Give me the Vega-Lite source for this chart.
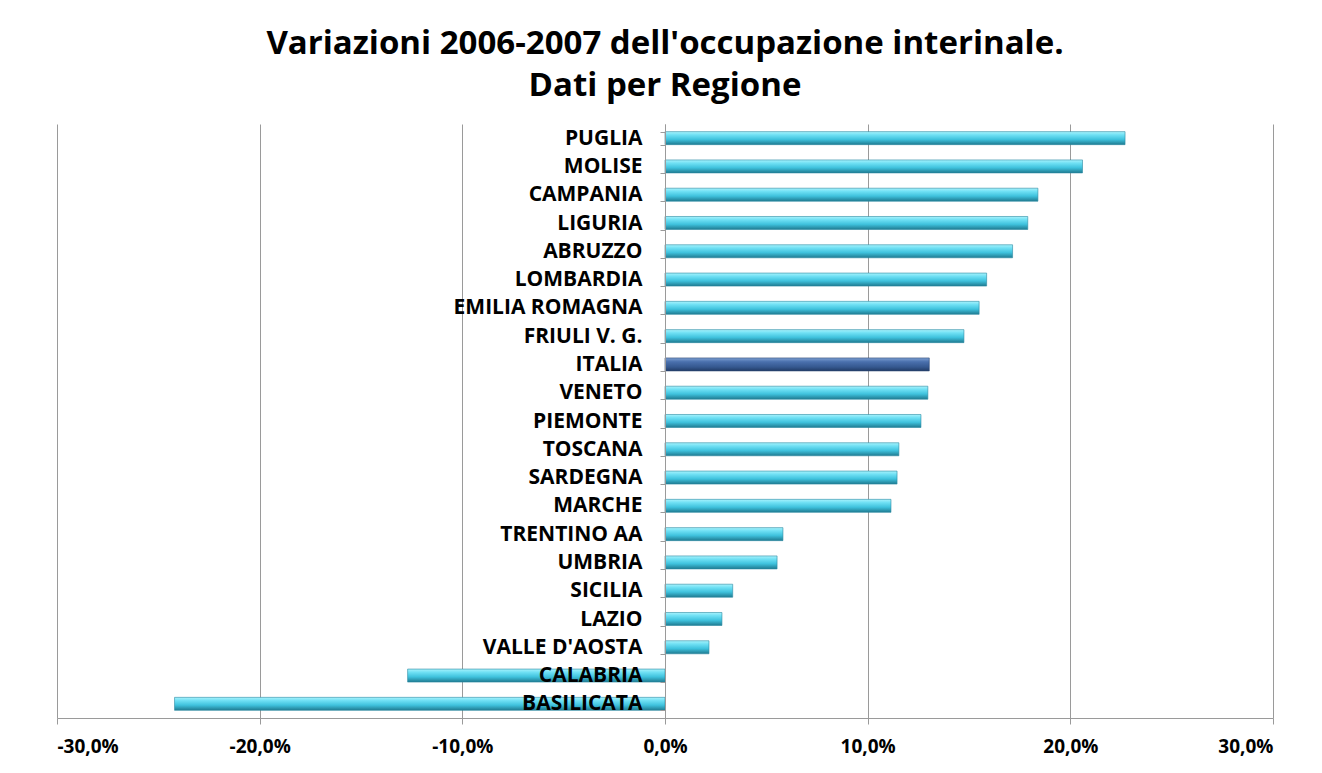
{
  "$schema": "https://vega.github.io/schema/vega-lite/v6.json",
  "autosize": "none",
  "width": 1216,
  "height": 594,
  "padding": {"left": 57, "top": 124, "right": 49, "bottom": 55},
  "background": "white",
  "config": {
    "locale": {"number": {"decimal": ",", "thousands": ".", "grouping": [3], "currency": ["", " €"], "minus": "-"}},
    "view": {"stroke": null},
    "font": "Open Sans"
  },
  "title": {
    "text": ["Variazioni 2006-2007 dell'occupazione interinale.", "Dati per  Regione"],
    "fontSize": 33,
    "font": "Open Sans",
    "fontWeight": "bold",
    "color": "#000000",
    "lineHeight": 42,
    "anchor": "middle",
    "offset": 10
  },
  "data": {
    "values": [
      {"regione": "PUGLIA", "var": 0.227},
      {"regione": "MOLISE", "var": 0.206},
      {"regione": "CAMPANIA", "var": 0.184},
      {"regione": "LIGURIA", "var": 0.179},
      {"regione": "ABRUZZO", "var": 0.1715},
      {"regione": "LOMBARDIA", "var": 0.1587},
      {"regione": "EMILIA ROMAGNA", "var": 0.155},
      {"regione": "FRIULI V. G.", "var": 0.1475},
      {"regione": "ITALIA", "var": 0.1304},
      {"regione": "VENETO", "var": 0.1297},
      {"regione": "PIEMONTE", "var": 0.1263},
      {"regione": "TOSCANA", "var": 0.1154},
      {"regione": "SARDEGNA", "var": 0.1145},
      {"regione": "MARCHE", "var": 0.1115},
      {"regione": "TRENTINO AA", "var": 0.0582},
      {"regione": "UMBRIA", "var": 0.0553},
      {"regione": "SICILIA", "var": 0.0334},
      {"regione": "LAZIO", "var": 0.0281},
      {"regione": "VALLE D'AOSTA", "var": 0.0217},
      {"regione": "CALABRIA", "var": -0.127},
      {"regione": "BASILICATA", "var": -0.242}
    ]
  },
  "encoding": {
    "y": {
      "field": "regione",
      "type": "nominal",
      "sort": ["PUGLIA", "MOLISE", "CAMPANIA", "LIGURIA", "ABRUZZO", "LOMBARDIA", "EMILIA ROMAGNA", "FRIULI V. G.", "ITALIA", "VENETO", "PIEMONTE", "TOSCANA", "SARDEGNA", "MARCHE", "TRENTINO AA", "UMBRIA", "SICILIA", "LAZIO", "VALLE D'AOSTA", "CALABRIA", "BASILICATA"],
      "scale": {"paddingInner": 0.54, "paddingOuter": 0.27},
      "axis": {
        "title": null,
        "offset": -608,
        "domainColor": "#9a9a9a",
        "domainWidth": 1,
        "tickColor": "#9a9a9a",
        "tickSize": 5,
        "tickBand": "extent",
        "labelFont": "Open Sans",
        "labelFontSize": 21,
        "labelFontWeight": "bold",
        "labelColor": "#000000",
        "labelPadding": 18,
        "labelLimit": 400,
        "grid": false,
        "zindex": 1
      }
    },
    "x": {
      "field": "var",
      "type": "quantitative",
      "scale": {"domain": [-0.3, 0.3], "nice": false},
      "axis": {
        "title": null,
        "values": [-0.3, -0.2, -0.1, 0, 0.1, 0.2, 0.3],
        "format": ".1%",
        "grid": true,
        "gridColor": "#9a9a9a",
        "gridWidth": 1,
        "gridOpacity": 1,
        "domainColor": "#9a9a9a",
        "tickColor": "#9a9a9a",
        "tickSize": 6,
        "labelFont": "Open Sans",
        "labelFontSize": 19,
        "labelFontWeight": "bold",
        "labelColor": "#000000",
        "labelPadding": 13
      }
    }
  },
  "layer": [
    {
      "transform": [{"filter": "datum.regione !== 'ITALIA'"}],
      "mark": {
        "type": "bar",
        "color": {
          "gradient": "linear", "x1": 0, "y1": 0, "x2": 0, "y2": 1,
          "stops": [
            {"offset": 0, "color": "#a8f2fc"},
            {"offset": 0.25, "color": "#6fe0f4"},
            {"offset": 0.6, "color": "#3fc2dd"},
            {"offset": 1, "color": "#1f7a90"}
          ]
        },
        "stroke": "#2a8aa2",
        "strokeWidth": 0.6
      }
    },
    {
      "transform": [{"filter": "datum.regione === 'ITALIA'"}],
      "mark": {
        "type": "bar",
        "color": {
          "gradient": "linear", "x1": 0, "y1": 0, "x2": 0, "y2": 1,
          "stops": [
            {"offset": 0, "color": "#7d9fd2"},
            {"offset": 0.3, "color": "#4a70ad"},
            {"offset": 0.7, "color": "#35588f"},
            {"offset": 1, "color": "#223c66"}
          ]
        },
        "stroke": "#2a4572",
        "strokeWidth": 0.6
      }
    }
  ]
}
